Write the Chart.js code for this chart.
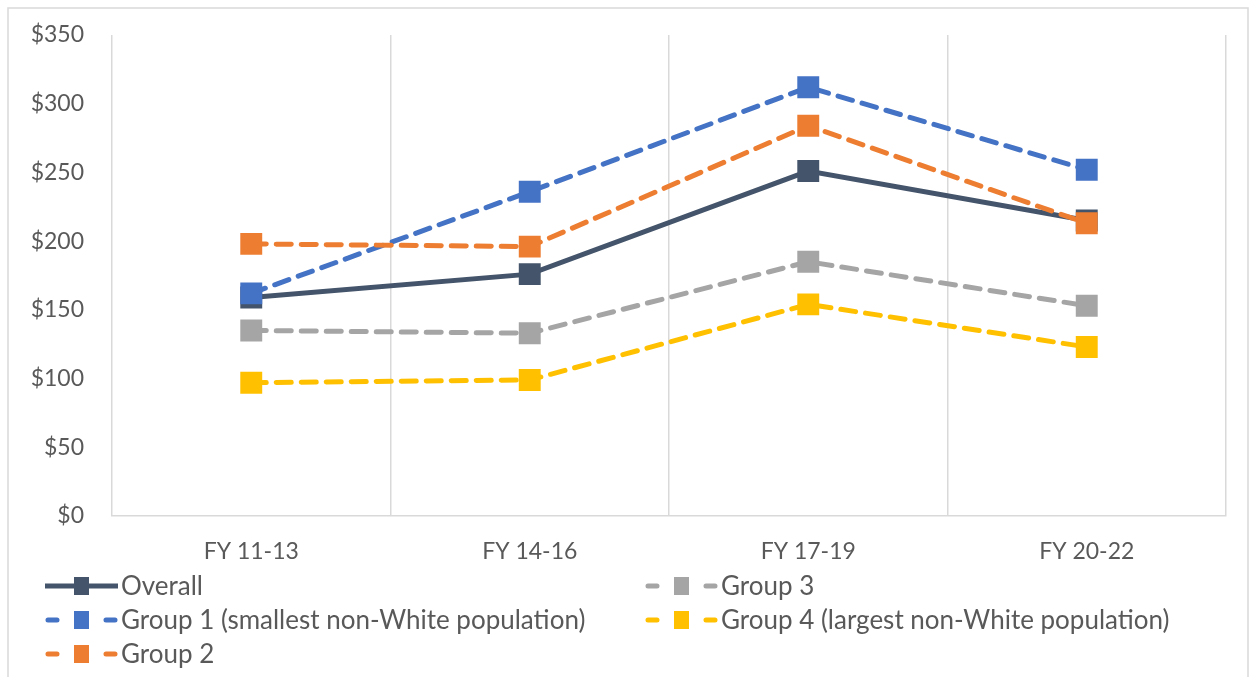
<!DOCTYPE html>
<html>
<head>
<meta charset="utf-8">
<script src="https://cdn.jsdelivr.net/npm/chart.js@4"></script>
<style>
    html, body { margin: 0; padding: 0; background: #fff; }
    #wrap { width: 1253px; height: 677px; position: relative; }
</style>
</head>
<body>
<div id="wrap"><canvas id="line-chart"></canvas></div>
<script>
const periods = ["FY 11-13", "FY 14-16", "FY 17-19", "FY 20-22"];
const overall = [159, 176, 251, 215];
const group1 = [162, 236, 312, 252];
const group2 = [198, 196, 284, 213];
const group3 = [135, 133, 185, 153];
const group4 = [97, 99, 154, 123];

const seriesNames = ["Overall", "Group 1 (smallest non-White population)", "Group 2", "Group 3", "Group 4 (largest non-White population)"];
const seriesColors = ["#44546A", "#4472C4", "#ED7D31", "#A5A5A5", "#FFC000"];
const yTicks = [0, 50, 100, 150, 200, 250, 300, 350];

const fontName = "Lato, 'Open Sans', sans-serif";
Chart.defaults.font.family = fontName;
Chart.defaults.color = "#595959";

function makeDataset(i, values) {
    const dashed = i !== 0;
    return {
        label: seriesNames[i],
        data: values,
        borderColor: seriesColors[i],
        backgroundColor: seriesColors[i],
        borderWidth: 5,
        borderDash: dashed ? [15, 10] : [],
        borderCapStyle: dashed ? "round" : "butt",
        pointStyle: "rect",
        pointRadius: 15.5,
        pointHoverRadius: 15.5,
        pointBorderWidth: 0,
        tension: 0,
        order: i === 0 ? 10 : 5 - i
    };
}

// two-column legend like the spreadsheet one
const legendPlugin = {
    id: "sideLegend",
    afterDraw(chart) {
        const ctx = chart.ctx;
        const cols = [45, 645];
        const rows = [586, 620, 654];
        const slots = [[0, 0], [0, 1], [0, 2], [1, 0], [1, 1]];
        ctx.save();
        seriesNames.forEach((name, i) => {
            const x = cols[slots[i][0]];
            const y = rows[slots[i][1]];
            ctx.strokeStyle = seriesColors[i];
            ctx.fillStyle = seriesColors[i];
            ctx.lineWidth = 5;
            ctx.setLineDash([]);
            ctx.beginPath();
            if (i === 0) {
                ctx.lineCap = "butt";
                ctx.moveTo(x, y);
                ctx.lineTo(x + 73, y);
            } else {
                ctx.lineCap = "round";
                ctx.moveTo(x + 3, y);
                ctx.lineTo(x + 12, y);
                ctx.moveTo(x + 61, y);
                ctx.lineTo(x + 70, y);
            }
            ctx.stroke();
            ctx.fillRect(x + 29, y - 9, 15, 18);
            ctx.fillStyle = "#595959";
            ctx.font = "26px " + fontName;
            ctx.textBaseline = "middle";
            ctx.textAlign = "left";
            ctx.fillText(name, x + 76, y + 1);
        });
        ctx.restore();
    },
    beforeDraw(chart) {
        const ctx = chart.ctx;
        ctx.save();
        ctx.fillStyle = "#fff";
        ctx.fillRect(0, 0, chart.width, chart.height);
        ctx.strokeStyle = "#D9D9D9";
        ctx.lineWidth = 1.5;
        ctx.strokeRect(8, 8, 1240, 690);
        ctx.restore();
    }
};

const ctx = document.querySelector("#line-chart");
const data = {
    labels: periods,
    datasets: [
        makeDataset(0, overall),
        makeDataset(1, group1),
        makeDataset(2, group2),
        makeDataset(3, group3),
        makeDataset(4, group4)
    ]
};
const options = {
    responsive: true,
    maintainAspectRatio: false,
    animation: false,
    layout: {
        padding: { top: 35, right: 27, bottom: 111, left: 0 }
    },
    scales: {
        x: {
            offset: true,
            grid: {
                offset: true,
                color: "#D9D9D9",
                lineWidth: 1.5,
                drawTicks: false
            },
            border: { display: true, color: "#D9D9D9", width: 1.5 },
            ticks: { padding: 22, font: { size: 23 }, color: "#595959" },
            afterFit(scale) {
                scale.height = 50;
                scale.paddingLeft = 0;
                scale.paddingRight = 0;
            }
        },
        y: {
            min: 0,
            max: 350,
            afterBuildTicks(scale) {
                scale.ticks = yTicks.map(v => ({ value: v }));
            },
            grid: { display: false, drawTicks: false },
            border: { display: false },
            ticks: {
                padding: 28,
                font: { size: 23 },
                color: "#595959",
                callback: v => "$" + v
            },
            afterFit(scale) {
                scale.width = 112;
                scale.paddingTop = 0;
                scale.paddingBottom = 0;
            }
        }
    },
    plugins: {
        legend: { display: false },
        tooltip: { enabled: false }
    }
};
const config = {
    type: "line",
    data: data,
    options: options,
    plugins: [legendPlugin]
};
const lineChart = new Chart(ctx, config);
</script>
</body>
</html>
